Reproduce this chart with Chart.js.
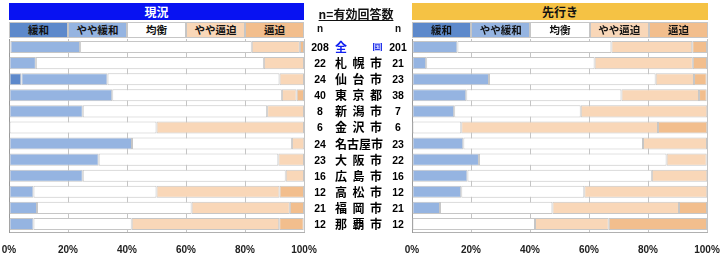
<!DOCTYPE html>
<html>
<head>
<meta charset="utf-8">
<script src="https://cdn.jsdelivr.net/npm/chart.js@4"></script>
<style>
  body { margin: 0; background: #fff; }
  #wrap { position: relative; width: 720px; height: 256px; overflow: hidden; font-family: "Liberation Sans", Arial, sans-serif; }
  canvas { position: absolute; top: 0; }
  .title { position: absolute; top: 3px; height: 17px; line-height: 17px; text-align: center; font: bold 12px "Noto Sans CJK JP", sans-serif; }
  .legend { position: absolute; top: 22px; height: 14px; display: flex; border: 1px solid #c6c6c6; background: #c6c6c6; gap: 2px; }
  .legend div { flex: 1; text-align: center; font: bold 10.5px "Noto Sans CJK JP", sans-serif; line-height: 14px; color: #111; }
  .mid { position: absolute; font-weight: bold; color: #111; }
  .row { position: absolute; left: 304px; width: 112px; height: 16px; }
  .row span { position: absolute; top: 0; line-height: 16px; }
  .nL { left: 2px; width: 28px; text-align: center; font: bold 10.5px "Liberation Sans", sans-serif; }
  .nR { left: 82px; width: 24px; text-align: center; font: bold 10.5px "Liberation Sans", sans-serif; }
  .nm { left: 31px; width: 47px; display: flex; justify-content: space-between; font: bold 12px "Noto Sans CJK JP", sans-serif; }
  .nm b { font-weight: bold; }
</style>
</head>
<body>
<div id="wrap">
  <canvas id="nowChart" width="320" height="256" style="left:0"></canvas>
  <canvas id="outChart" width="326" height="256" style="left:394px"></canvas>

  <div class="title" style="left:9px;width:295px;background:#0812f2;color:#fff;">現況</div>
  <div class="title" style="left:412px;width:296px;background:#f5c244;color:#111;">先行き</div>

  <div class="legend" id="legNow" style="left:9px;width:293px;"></div>
  <div class="legend" id="legOut" style="left:412px;width:294px;"></div>

  <div class="mid" style="left:300px;width:112px;top:5px;text-align:center;font:bold 12px 'Noto Sans CJK JP',sans-serif;text-decoration:underline;">n=有効回答数</div>
  <div class="mid" style="left:306px;width:28px;top:23px;text-align:center;font:bold 10px 'Liberation Sans',sans-serif;">n</div>
  <div class="mid" style="left:386px;width:24px;top:23px;text-align:center;font:bold 10px 'Liberation Sans',sans-serif;">n</div>
  <div id="rows"></div>
</div>

<script>
// 都市と回答数
const cities = ["全国", "札幌市", "仙台市", "東京都", "新潟市", "金沢市", "名古屋市", "大阪市", "広島市", "高松市", "福岡市", "那覇市"];
const nNow = [208, 22, 24, 40, 8, 6, 24, 23, 16, 12, 21, 12];
const nOutlook = [201, 21, 23, 38, 7, 6, 23, 22, 16, 12, 21, 12];
const levels = ["緩和", "やや緩和", "均衡", "やや逼迫", "逼迫"];
const xTicks = [0, 20, 40, 60, 80, 100];

// 現況 (%)
const nowEase = [0.5, 0, 4.2, 0, 0, 0, 0, 0, 0, 0, 0, 0];
const nowSlightEase = [23.6, 9.1, 29.2, 35.0, 25.0, 0, 41.7, 30.4, 25.0, 8.3, 9.5, 8.3];
const nowBalance = [58.2, 77.3, 58.3, 57.5, 62.5, 50.0, 54.2, 60.9, 68.8, 41.7, 52.4, 33.3];
const nowSlightTight = [16.3, 13.6, 8.3, 5.0, 12.5, 50.0, 4.2, 8.7, 6.2, 41.7, 33.3, 50.0];
const nowTight = [1.4, 0, 0, 2.5, 0, 0, 0, 0, 0, 8.3, 4.8, 8.3];

// 先行き (%)
const outEase = [0, 0, 0, 0, 0, 0, 0, 0, 0, 0, 0, 0];
const outSlightEase = [15.4, 4.8, 26.1, 18.4, 14.3, 0, 17.4, 22.7, 18.8, 16.7, 9.5, 0];
const outBalance = [52.2, 57.1, 56.5, 52.6, 42.9, 16.7, 60.9, 63.6, 62.5, 41.7, 38.1, 41.7];
const outSlightTight = [27.4, 33.3, 13.0, 26.3, 42.9, 66.7, 21.7, 13.6, 18.8, 41.7, 42.9, 25.0];
const outTight = [5.0, 4.8, 4.3, 2.6, 0, 16.7, 0, 0, 0, 0, 9.5, 33.3];

const colors = ["#5d89cb", "#95b4e1", "#ffffff", "#f9d7b8", "#f2be8d"];

function makeDatasets(series) {
  return series.map((data, i) => ({
    label: levels[i],
    data: data,
    backgroundColor: colors[i],
    borderColor: "#c6c6c6",
    borderWidth: (ctx) => (ctx.raw ? 1 : 0),
    borderSkipped: false,
    barPercentage: 0.75,
    categoryPercentage: 1,
  }));
}

function renderChart(id, series, padL, padR) {
  const ctx = document.getElementById(id).getContext("2d");
  new Chart(ctx, {
    type: "bar",
    data: { labels: cities, datasets: makeDatasets(series) },
    options: {
      indexAxis: "y",
      responsive: false,
      animation: false,
      devicePixelRatio: 1,
      layout: { padding: { left: padL, right: padR, top: 39, bottom: 0 } },
      plugins: { legend: { display: false }, tooltip: { enabled: false } },
      scales: {
        x: {
          stacked: true,
          min: 0,
          max: 100,
          afterBuildTicks: (s) => { s.ticks = xTicks.map((v) => ({ value: v })); },
          afterFit: (s) => { s.height = 24; },
          // tick marks are invisible, they only push the labels down
          grid: { color: "#c4c4c4", lineWidth: 1, drawTicks: true, tickLength: 12, tickColor: "rgba(0,0,0,0)" },
          border: { display: true, color: "#b0b0b0" },
          ticks: {
            autoSkip: false,
            maxRotation: 0,
            padding: 0,
            color: "#222",
            font: { family: "Liberation Sans", size: 10, weight: "bold" },
            callback: (v) => v + "%",
          },
        },
        y: {
          stacked: true,
          grid: { display: false, drawTicks: false },
          border: { display: true, color: "#9a9a9a" },
          ticks: { display: false },
        },
      },
    },
  });
}

renderChart("nowChart", [nowEase, nowSlightEase, nowBalance, nowSlightTight, nowTight], 9, 16);
renderChart("outChart", [outEase, outSlightEase, outBalance, outSlightTight, outTight], 18, 13);

// 凡例ヘッダー
["legNow", "legOut"].forEach((id) => {
  const el = document.getElementById(id);
  levels.forEach((lv, i) => {
    const d = document.createElement("div");
    d.textContent = lv;
    d.style.background = colors[i];
    el.appendChild(d);
  });
});

// 中央の都市名と n
const rowsEl = document.getElementById("rows");
const rowH = 193 / cities.length;
cities.forEach((c, i) => {
  const r = document.createElement("div");
  r.className = "row";
  r.style.top = (39 + i * rowH) + "px";
  let chars = c.split("").map((ch) => "<b>" + ch + "</b>").join("");
  if (i === 0) {
    chars = '<b style="color:#1020f0">全</b><b style="color:#c8ceff;background:#2433e8;font-size:8px;line-height:8px;height:8px;margin-top:4px;padding:0 0.5px">国</b>';
  }
  r.innerHTML =
    '<span class="nL">' + nNow[i] + "</span>" +
    '<span class="nm">' + chars + "</span>" +
    '<span class="nR">' + nOutlook[i] + "</span>";
  rowsEl.appendChild(r);
});
</script>
</body>
</html>
